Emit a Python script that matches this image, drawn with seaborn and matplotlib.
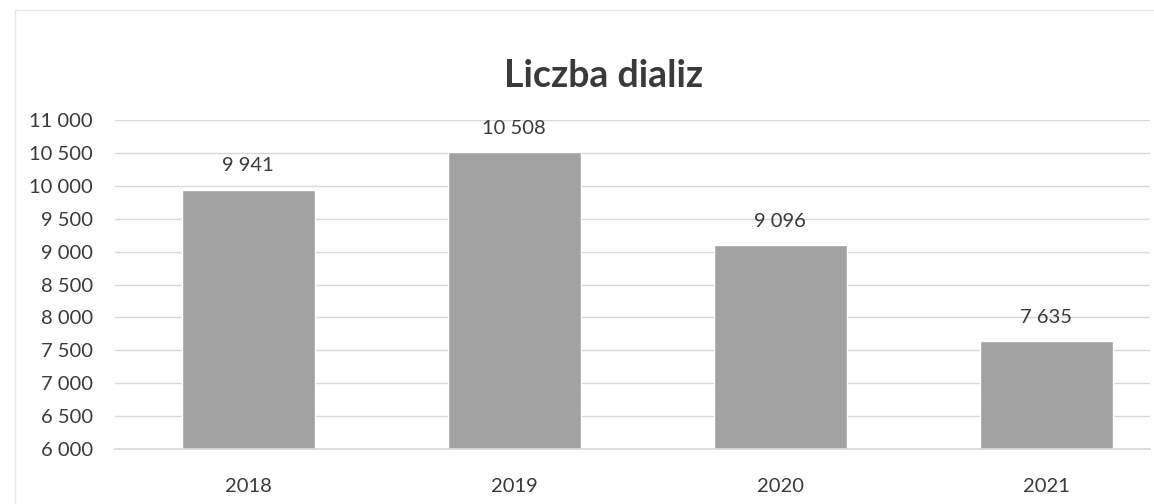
import matplotlib.pyplot as plt
import seaborn as sns
import pandas as pd
from matplotlib.ticker import FuncFormatter, MultipleLocator

# Data
years = ["2018", "2019", "2020", "2021"]
dialysis_counts = [9941, 10508, 9096, 7635]

TEXT = "#3a3a3a"
BAR = "#a2a2a2"
GRID = "#d9d9d9"


def fmt_thousands(v):
    # Polish style: space as thousands separator
    return f"{int(round(v)):,}".replace(",", " ")


df = pd.DataFrame({"Rok": years, "Liczba": dialysis_counts})

sns.set_theme(style="white")
plt.rcParams["font.family"] = ["Lato", "DejaVu Sans"]

fig = plt.figure(figsize=(11.54, 5.04), dpi=100)
ax = fig.add_axes([115 / 1154, 55 / 504, 1035 / 1154, 329 / 504])

sns.barplot(data=df, x="Rok", y="Liczba", color=BAR, width=0.5,
            saturation=1, ax=ax, zorder=2)

ax.set_ylim(6000, 11000)
ax.set_xlim(-0.5, 3.39)
ax.yaxis.set_major_locator(MultipleLocator(500))
ax.yaxis.set_major_formatter(FuncFormatter(lambda v, p: fmt_thousands(v)))
ax.grid(axis="y", color=GRID, linewidth=1, zorder=0)
ax.set_axisbelow(True)

for side in ["top", "right", "left"]:
    ax.spines[side].set_visible(False)
ax.spines["bottom"].set_color(GRID)

ax.tick_params(axis="y", length=0, pad=16, labelsize=14.5, labelcolor=TEXT)
ax.tick_params(axis="x", length=0, pad=21, labelsize=14.5, labelcolor=TEXT)
ax.set_xlabel("")
ax.set_ylabel("")

# Value labels above bars
for container in ax.containers:
    ax.bar_label(container, labels=[fmt_thousands(v) for v in dialysis_counts],
                 padding=11, fontsize=14.5, color=TEXT)

fig.text(0.523, 0.85, "Liczba dializ", ha="center", va="center",
         fontsize=27, fontweight="bold", color=TEXT)

# faint outer frame as in the scanned chart
fig.add_artist(plt.Line2D([15 / 1154, 15 / 1154], [0, 494 / 504],
                          color="#e6e6e6", linewidth=1, transform=fig.transFigure))
fig.add_artist(plt.Line2D([15 / 1154, 1], [494 / 504, 494 / 504],
                          color="#e6e6e6", linewidth=1, transform=fig.transFigure))

fig.savefig("out.png", dpi=100)
